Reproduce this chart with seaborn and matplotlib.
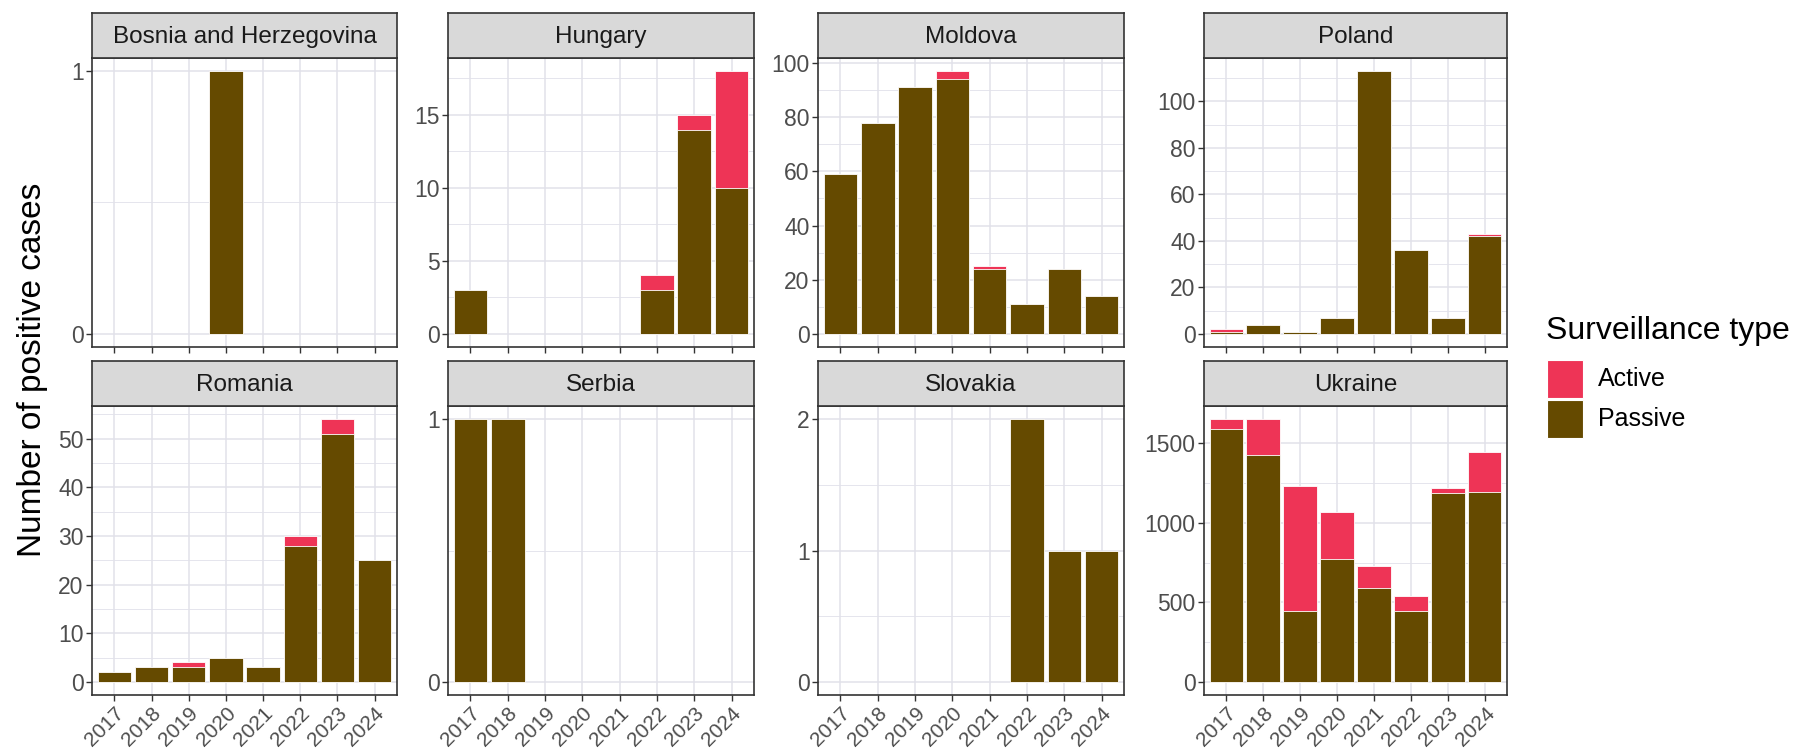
import numpy as np
import pandas as pd
import matplotlib
matplotlib.use("Agg")
import matplotlib.pyplot as plt
from matplotlib.patches import Rectangle
from matplotlib.ticker import MaxNLocator, AutoMinorLocator
import seaborn as sns

# ---------------- data ----------------
years = ["2017", "2018", "2019", "2020", "2021", "2022", "2023", "2024"]
countries = ["Bosnia and Herzegovina", "Hungary", "Moldova", "Poland",
             "Romania", "Serbia", "Slovakia", "Ukraine"]

bih_passive = [0, 0, 0, 1, 0, 0, 0, 0]
bih_active = [0, 0, 0, 0, 0, 0, 0, 0]
hun_passive = [3, 0, 0, 0, 0, 3, 14, 10]
hun_active = [0, 0, 0, 0, 0, 1, 1, 8]
mda_passive = [59, 78, 91, 94, 24, 11, 24, 14]
mda_active = [0, 0, 0, 3, 1, 0, 0, 0]
pol_passive = [1, 4, 1, 7, 113, 36, 7, 42]
pol_active = [1, 0, 0, 0, 0, 0, 0, 1]
rou_passive = [2, 3, 3, 5, 3, 28, 51, 25]
rou_active = [0, 0, 1, 0, 0, 2, 3, 0]
srb_passive = [1, 1, 0, 0, 0, 0, 0, 0]
srb_active = [0, 0, 0, 0, 0, 0, 0, 0]
svk_passive = [0, 0, 0, 0, 0, 2, 1, 1]
svk_active = [0, 0, 0, 0, 0, 0, 0, 0]
ukr_passive = [1590, 1425, 447, 775, 588, 447, 1186, 1197]
ukr_active = [63, 228, 783, 291, 141, 96, 32, 251]

passive_by_country = [bih_passive, hun_passive, mda_passive, pol_passive,
                      rou_passive, srb_passive, svk_passive, ukr_passive]
active_by_country = [bih_active, hun_active, mda_active, pol_active,
                     rou_active, srb_active, svk_active, ukr_active]

legend_title = "Surveillance type"
legend_labels = ["Active", "Passive"]

# ---------------- style ----------------
sns.set_theme(style="white")
plt.rcParams["font.family"] = ["Liberation Sans", "DejaVu Sans"]

ACTIVE = "#EE3456"
PASSIVE = "#654A00"
GRID = "#E1E1EA"
BORDER = "#333333"
STRIP = "#D9D9D9"
TICKTXT = "#4D4D4D"
legend_colors = [ACTIVE, PASSIVE]

W, H = 1798, 750
fig = plt.figure(figsize=(W / 100, H / 100), dpi=100)


def rect(x0, y0, x1, y1):
    return [x0 / W, 1 - y1 / H, (x1 - x0) / W, (y1 - y0) / H]


cols = [(92, 397), (448, 754), (818, 1124), (1204, 1507)]
rows = [(13, 58, 347), (361, 406, 695)]

for i, country in enumerate(countries):
    r, c = divmod(i, 4)
    x0, x1 = cols[c]
    st, sb, pb = rows[r]
    ax = fig.add_axes(rect(x0, sb, x1, pb))
    sax = fig.add_axes(rect(x0, st, x1, sb))

    p = np.array(passive_by_country[i], dtype=float)
    a = np.array(active_by_country[i], dtype=float)
    df = pd.DataFrame({"year": years, "passive": p, "active": a})
    df["total"] = df["passive"] + df["active"]
    df = df[df["total"] > 0]

    sns.barplot(data=df, x="year", y="total", order=years, color=ACTIVE,
                saturation=1, width=0.9, edgecolor="white", linewidth=0.6,
                errorbar=None, ax=ax)
    sns.barplot(data=df[df["passive"] > 0], x="year", y="passive", order=years,
                color=PASSIVE, saturation=1, width=0.9, edgecolor="white",
                linewidth=0.6, errorbar=None, ax=ax)

    ymax = df["total"].max()
    ax.set_xlim(-0.6, len(years) - 0.4)
    ax.set_ylim(-0.05 * ymax, 1.05 * ymax)
    ax.yaxis.set_major_locator(MaxNLocator(nbins=7, steps=[1, 2, 5, 10], integer=True))
    ax.yaxis.set_minor_locator(AutoMinorLocator(2))
    ax.set_axisbelow(True)
    ax.grid(which="major", axis="both", color=GRID, linewidth=1.1)
    ax.grid(which="minor", axis="y", color=GRID, linewidth=0.6)
    ax.set_xlabel("")
    ax.set_ylabel("")
    ax.set_facecolor("white")
    for s in ax.spines.values():
        s.set_color(BORDER)
        s.set_linewidth(1.2)
    ax.tick_params(axis="both", which="major", length=4, width=1, color=BORDER,
                   labelsize=16.5, labelcolor=TICKTXT, pad=2,
                   bottom=True, left=True)
    ax.tick_params(axis="y", which="minor", length=0)
    if r == 0:
        ax.tick_params(axis="x", labelbottom=False)
    else:
        ax.set_xticks(range(len(years)))
        ax.set_xticklabels(years, rotation=45, ha="right",
                           rotation_mode="anchor", fontsize=15)

    sax.set_facecolor(STRIP)
    sax.set_xticks([])
    sax.set_yticks([])
    for s in sax.spines.values():
        s.set_color(BORDER)
        s.set_linewidth(1.2)
    sax.text(0.5, 0.47, country, ha="center", va="center", fontsize=17.5,
             color="#1A1A1A", transform=sax.transAxes)

fig.text(33 / W, 1 - 370 / H, "Number of positive cases", rotation=90,
         ha="center", va="center", fontsize=24, color="black")

# legend (drawn in figure pixel coordinates)
fig.text(1546 / W, 1 - 331 / H, legend_title, ha="left", va="center",
         fontsize=23, color="black")
key_top = 360
for k, (lab, col) in enumerate(zip(legend_labels, legend_colors)):
    y0 = key_top + k * 40
    fig.add_artist(Rectangle((1547 / W, 1 - (y0 + 38) / H), 36 / W, 38 / H,
                             transform=fig.transFigure, facecolor=col,
                             edgecolor="white", linewidth=0.8))
    fig.text(1598 / W, 1 - (y0 + 19) / H, lab, ha="left", va="center",
             fontsize=18, color="black")

fig.savefig("out.png", dpi=100, facecolor="white")
